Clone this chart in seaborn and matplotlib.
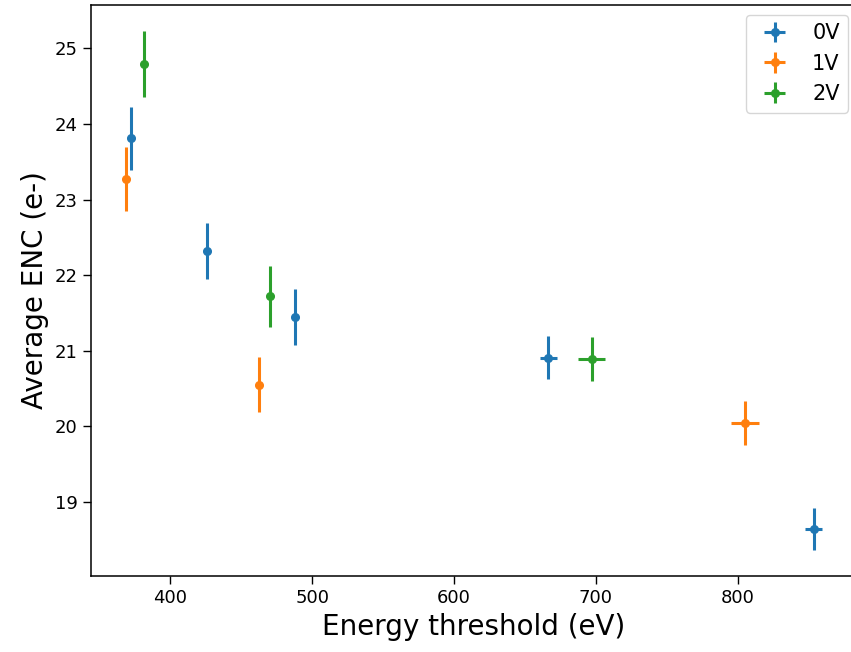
import matplotlib
matplotlib.use("Agg")
import matplotlib.pyplot as plt
import seaborn as sns
import pandas as pd

labels = ["0V", "1V", "2V"]
x_0v = [372, 426, 488, 666.5, 853.6]
y_0v = [23.81, 22.32, 21.45, 20.91, 18.64]
xerr_0v = [0, 0, 0, 5.9, 5.9]
yerr_0v = [0.42, 0.37, 0.37, 0.285, 0.275]

x_1v = [368.5, 462.5, 805]
y_1v = [23.27, 20.55, 20.04]
xerr_1v = [0, 0, 9.7]
yerr_1v = [0.42, 0.365, 0.29]

x_2v = [381, 470, 697]
y_2v = [24.79, 21.72, 20.89]
xerr_2v = [0, 0, 9.5]
yerr_2v = [0.44, 0.40, 0.29]

series = {
    "0V": (x_0v, y_0v, xerr_0v, yerr_0v),
    "1V": (x_1v, y_1v, xerr_1v, yerr_1v),
    "2V": (x_2v, y_2v, xerr_2v, yerr_2v),
}

sns.set_theme(style="ticks")
plt.rcParams["font.family"] = ["DejaVu Sans"]
for k in ["text.color", "axes.labelcolor", "xtick.color", "ytick.color"]:
    plt.rcParams[k] = "black"
palette = sns.color_palette("tab10", 3)

W, H = 851, 652
fig = plt.figure(figsize=(W / 100, H / 100), dpi=100)
left, right, top, bottom = 91, 857, 5, 576
ax = fig.add_axes([left / W, 1 - bottom / H, (right - left) / W, (bottom - top) / H])

for color, lab in zip(palette, labels):
    xs, ys, xe, ye = series[lab]
    df = pd.DataFrame({"x": xs, "y": ys})
    ax.errorbar(df["x"], df["y"], xerr=xe, yerr=ye, fmt="o", color=color,
                markersize=5.5, elinewidth=2.2, label=lab)

ax.set_xlabel("Energy threshold (eV)", fontsize=20)
ax.set_ylabel("Average ENC (e-)", fontsize=20)
ax.tick_params(axis="both", labelsize=13, length=6, width=1, color="black")
ax.set_xticks([400, 500, 600, 700, 800])
ax.set_yticks([19, 20, 21, 22, 23, 24, 25])
for s in ax.spines.values():
    s.set_linewidth(1.1)
    s.set_color("black")
ax.legend(loc="upper right", fontsize=15, frameon=True, borderaxespad=0,
          bbox_to_anchor=((848 - left) / (right - left), (bottom - 15) / (bottom - top)),
          bbox_transform=ax.transAxes)

fig.savefig("out.png", dpi=100)
